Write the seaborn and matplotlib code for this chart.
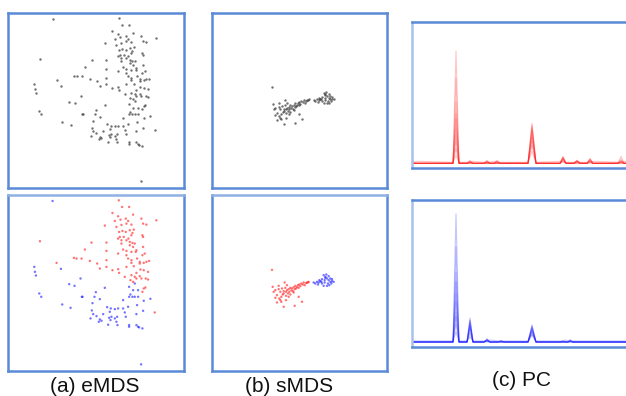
import numpy as np
import pandas as pd
import matplotlib
matplotlib.use("Agg")
import matplotlib.pyplot as plt
import seaborn as sns

# eMDS embedding (same points in both panels), class 0 = blue, 1 = red
emds_x = [158, 103, 105, 108, 183, 242, 208, 224, 118, 124, 246, 248, 187, 212, 288, 284, 315, 300,
          278, 276, 280, 272, 290, 300, 297, 305, 322, 333, 345, 355, 330, 335, 328, 332, 325, 345,
          350, 353, 370, 375, 378, 385, 388, 392, 398, 405, 388, 388, 415, 415, 412, 432, 452, 410,
          430, 410, 415, 418, 428, 424, 405, 388, 400, 370, 310, 352,
          357, 367, 388, 338, 355, 345, 362, 378, 385, 400, 425, 430, 440, 470, 315, 350, 365, 380,
          395, 358, 368, 378, 390, 398, 402, 360, 372, 386, 395, 355, 365, 380, 390, 398, 405, 428,
          430, 365, 390, 400, 410, 370, 380, 395, 408, 430, 435, 428, 120, 275, 320, 255, 320, 355,
          380, 385, 395, 412, 420, 230, 245, 270, 292, 320, 170, 222, 300, 320, 338, 358, 380, 395,
          402, 420, 432, 440, 448, 422, 432, 445, 410, 420, 425, 410, 392, 438, 445, 405, 395, 432,
          437, 428, 465, 355, 400, 375]
emds_y = [32, 230, 245, 256, 236, 265, 282, 287, 310, 320, 320, 320, 343, 353, 306, 320, 293, 327,
          339, 361, 372, 385, 378, 388, 395, 392, 351, 355, 357, 355, 365, 380, 383, 390, 404, 385,
          395, 405, 355, 367, 380, 350, 320, 313, 320, 320, 405, 410, 300, 320, 345, 332, 326, 372,
          362, 405, 410, 412, 415, 523, 280, 290, 300, 330, 372, 380,
          30, 50, 50, 68, 78, 92, 88, 85, 92, 73, 85, 100, 103, 90, 106, 110, 104, 100,
          103, 125, 122, 125, 120, 128, 118, 140, 140, 145, 135, 145, 150, 150, 155, 158, 160, 135,
          140, 160, 165, 170, 180, 178, 182, 185, 185, 170, 190, 195, 153, 157, 157, 178, 182, 190,
          195, 205, 210, 205, 215, 205, 205, 212, 220, 210, 218, 203, 235, 230, 240, 248, 230, 218,
          228, 220, 218, 215, 212, 238, 240, 245, 248, 258, 265, 265, 270, 265, 268, 260, 255, 295,
          292, 305, 367, 237, 275, 260]
emds_cls = [0] * 66 + [1] * 96

# sMDS embedding
smds_x = [20, 22, 25, 30, 35, 40, 45, 48, 50, 55, 55, 60, 62, 65, 68, 70, 72, 75, 78, 80, 83, 85,
          88, 90, 92, 95, 98, 100, 102, 105, 108, 112, 115, 118, 122, 125, 128, 130, 58, 62, 70, 42,
          48, 35, 55, 88, 110, 100, 40, 30, 62, 75, 85, 65, 52, 45,
          145, 150, 155, 160, 165, 170, 175, 180, 185, 178, 190, 195, 200, 188, 192, 185, 175, 180,
          195, 200, 170, 162, 158, 168, 183, 190, 198, 205, 178]
smds_y = [14, 65, 80, 75, 90, 72, 80, 95, 70, 78, 85, 68, 80, 75, 85, 72, 80, 68, 76, 70, 78, 66,
          72, 62, 70, 66, 60, 68, 58, 63, 55, 58, 52, 60, 54, 52, 52, 50, 52, 92, 95, 100,
          110, 112, 125, 122, 110, 95, 62, 98, 105, 88, 82, 60, 88, 105,
          52, 55, 50, 52, 48, 55, 30, 35, 40, 45, 45, 50, 48, 55, 60, 62, 62, 38,
          40, 42, 42, 45, 58, 50, 28, 33, 55, 50, 52]
smds_cls = [1] * 56 + [0] * 29

# parallel coordinates, red class
pc_red_dims = [0, 2, 5, 41, 44, 47, 55, 58, 61, 72, 75, 78, 82, 85, 88, 116, 120, 124,
               148, 151, 154, 162, 165, 168, 175, 178, 181, 206, 209, 212, 228]
pc_red = [
    [6, 0, 0, 0, 112, 0, 0, 2, 0, 0, 2, 0, 0, 3, 0, 0, 22, 0, 0, 7, 0, 0, 3, 0, 0, 5, 0, 0, 7, 0, 0],
    [3, 0, 0, 0, 85, 0, 0, 3, 0, 0, 3, 0, 0, 2, 0, 0, 40, 0, 0, 5, 0, 0, 2, 0, 0, 4, 0, 0, 3, 0, 0],
    [2, 0, 0, 0, 62, 0, 0, 1, 0, 0, 2, 0, 0, 1, 0, 0, 32, 0, 0, 6, 0, 0, 3, 0, 0, 2, 0, 0, 2, 0, 0],
    [1, 0, 0, 0, 45, 0, 0, 2, 0, 0, 1, 0, 0, 2, 0, 0, 26, 0, 0, 4, 0, 0, 1, 0, 0, 3, 0, 0, 1, 0, 0],
    [0, 0, 0, 0, 28, 0, 0, 1, 0, 0, 1, 0, 0, 1, 0, 0, 36, 0, 0, 3, 0, 0, 2, 0, 0, 1, 0, 0, 4, 0, 0],
    [0, 0, 0, 0, 15, 0, 0, 0, 0, 0, 0, 0, 0, 0, 0, 0, 18, 0, 0, 2, 0, 0, 1, 0, 0, 2, 0, 0, 1, 0, 0],
    [1, 1, 2, 1, 8, 1, 1, 1, 2, 1, 1, 1, 2, 1, 1, 1, 12, 1, 2, 1, 1, 1, 2, 1, 1, 1, 2, 1, 1, 2, 1],
    [0, 0, 0, 0, 35, 0, 0, 0, 0, 0, 0, 0, 0, 0, 0, 0, 34, 0, 0, 6, 0, 0, 0, 0, 0, 4, 0, 0, 0, 0, 0],
    [0, 0, 0, 0, 50, 0, 0, 1, 0, 0, 0, 0, 0, 0, 0, 0, 28, 0, 0, 5, 0, 0, 2, 0, 0, 0, 0, 0, 2, 0, 0],
    [0, 0, 0, 0, 22, 0, 0, 0, 0, 0, 1, 0, 0, 0, 0, 0, 38, 0, 0, 4, 0, 0, 0, 0, 0, 3, 0, 0, 0, 0, 0],
]

# parallel coordinates, blue class
pc_blue_dims = [0, 41, 44, 47, 55, 58, 61, 72, 75, 78, 86, 89, 92, 116, 120, 124,
                148, 151, 154, 156, 158, 161, 228]
pc_blue = [
    [0, 0, 128, 0, 0, 24, 0, 0, 3, 0, 0, 1, 0, 0, 17, 0, 0, 1, 0, 0, 2, 0, 0],
    [0, 0, 95, 0, 0, 18, 0, 0, 2, 0, 0, 1, 0, 0, 12, 0, 0, 0, 0, 0, 1, 0, 0],
    [0, 0, 70, 0, 0, 13, 0, 0, 3, 0, 0, 0, 0, 0, 10, 0, 0, 1, 0, 0, 1, 0, 0],
    [0, 0, 48, 0, 0, 21, 0, 0, 1, 0, 0, 1, 0, 0, 15, 0, 0, 0, 0, 0, 2, 0, 0],
    [0, 0, 30, 0, 0, 9, 0, 0, 2, 0, 0, 1, 0, 0, 7, 0, 0, 0, 0, 0, 0, 0, 0],
    [0, 0, 18, 0, 0, 16, 0, 0, 1, 0, 0, 0, 0, 0, 13, 0, 0, 0, 0, 0, 1, 0, 0],
    [1, 1, 10, 1, 1, 5, 1, 1, 1, 2, 1, 1, 1, 1, 8, 1, 1, 1, 2, 1, 1, 1, 1],
    [0, 0, 60, 0, 0, 22, 0, 0, 2, 0, 0, 0, 0, 0, 16, 0, 0, 0, 0, 0, 0, 0, 0],
    [0, 0, 40, 0, 0, 19, 0, 0, 1, 0, 0, 0, 0, 0, 14, 0, 0, 0, 0, 0, 1, 0, 0],
    [0, 0, 25, 0, 0, 15, 0, 0, 0, 0, 0, 0, 0, 0, 11, 0, 0, 0, 0, 0, 0, 0, 0],
]

BORDER = "#5a8ad6"
RED = "#ff1a1a"
BLUE = "#1a1aff"


def frame(ax, light_left=False, light_top=False):
    ax.set_xticks([])
    ax.set_yticks([])
    ax.set_xlabel("")
    ax.set_ylabel("")
    for name, sp in ax.spines.items():
        sp.set_visible(True)
        sp.set_color(BORDER)
        sp.set_linewidth(1.8)
    if light_left:
        ax.spines["left"].set_color("#a9c1ea")
    if light_top:
        ax.spines["top"].set_color("#8fb0e4")


def scatter(ax, xs, ys, cls, colored, xlim, ylim):
    df = pd.DataFrame({"x": xs, "y": ys, "c": cls})
    if colored:
        sns.scatterplot(data=df, x="x", y="y", hue="c", palette={0: BLUE, 1: RED},
                        s=3, linewidth=0, alpha=0.6, legend=False, ax=ax)
    else:
        sns.scatterplot(data=df, x="x", y="y", color="#333333",
                        s=3, linewidth=0, alpha=0.7, legend=False, ax=ax)
    ax.set_xlim(*xlim)
    ax.set_ylim(*ylim)


def pcplot(ax, dims, series, color, ylim):
    rows = []
    for k, s in enumerate(series):
        for d, v in zip(dims, s):
            rows.append({"dim": d, "val": v, "line": k})
    df = pd.DataFrame(rows)
    sns.lineplot(data=df, x="dim", y="val", units="line", estimator=None,
                 color=color, alpha=0.25, linewidth=0.8, ax=ax)
    ax.set_xlim(0, 228)
    ax.set_ylim(*ylim)


sns.set_style("white")
plt.rcParams["font.family"] = ["Liberation Sans", "DejaVu Sans"]

fig = plt.figure(figsize=(6.26, 3.96), dpi=100)

W, H = 626.0, 396.0


def place(x0, y0, x1, y1):
    return fig.add_axes([x0 / W, 1 - y1 / H, (x1 - x0) / W, (y1 - y0) / H])


ax_a1 = place(8, 13, 184, 188)
ax_a2 = place(8, 195, 184, 371)
ax_b1 = place(212, 13, 387, 188)
ax_b2 = place(212, 195, 387, 371)
ax_c1 = place(412, 22, 640, 168)
ax_c2 = place(412, 200, 640, 347)

scatter(ax_a1, emds_x, emds_y, emds_cls, False, (24, 553), (543, 14))
scatter(ax_a2, emds_x, emds_y, emds_cls, True, (24, 553), (543, 14))
smx = [v + 195 for v in smds_x]
smy = [v + 225 for v in smds_y]
scatter(ax_b1, smx, smy, smds_cls, False, (35, 560), (543, 14))
scatter(ax_b2, smx, smy, smds_cls, True, (35, 560), (543, 14))

pcplot(ax_c1, pc_red_dims, pc_red, RED, (-4.7, 141.3))
pcplot(ax_c2, pc_blue_dims, pc_blue, BLUE, (-5, 141.7))

frame(ax_a1)
frame(ax_a2, light_top=True)
frame(ax_b1)
frame(ax_b2, light_top=True)
frame(ax_c1, light_left=True)
frame(ax_c2, light_left=True)

fig.text(95 / W, 1 - 387 / H, "(a) eMDS", ha="center", va="center", fontsize=15, color="#111111")
fig.text(289 / W, 1 - 387 / H, "(b) sMDS", ha="center", va="center", fontsize=15, color="#111111")
fig.text(521 / W, 1 - 381 / H, "(c) PC", ha="center", va="center", fontsize=15, color="#111111")

fig.savefig("out.png", dpi=100)
